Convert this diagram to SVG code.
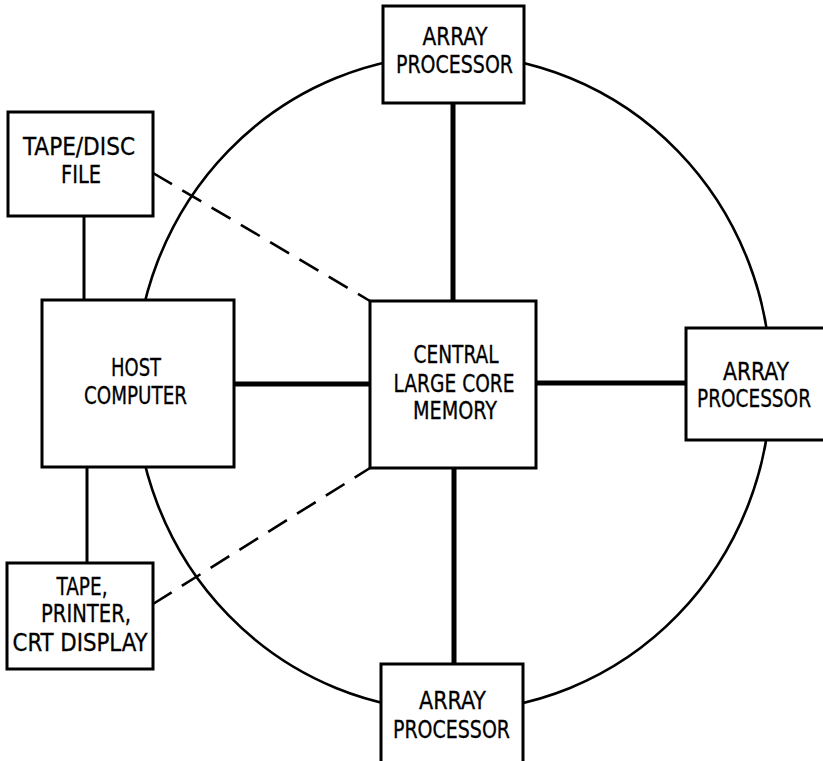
<svg xmlns="http://www.w3.org/2000/svg" width="823" height="761" viewBox="0 0 823 761">
<style>
.box{fill:#fff;stroke:#000;stroke-width:3}
.ring{fill:none;stroke:#000;stroke-width:2.6}
.thick{stroke:#000;stroke-width:5;fill:none}
.thin{stroke:#000;stroke-width:3;fill:none}
.dash{stroke:#000;stroke-width:2.6;fill:none;stroke-dasharray:22 12}
text{font-family:"DejaVu Sans Condensed","Liberation Sans",sans-serif;font-stretch:condensed;font-size:24px;fill:#000;text-anchor:middle;stroke:#000;stroke-width:0.3}
</style>
<rect width="823" height="761" fill="#fff"/>
<ellipse class="ring" cx="453" cy="383" rx="318" ry="328"/>
<g id="connectors">
<line class="thick" x1="453" y1="103" x2="453" y2="301"/>
<line class="thick" x1="454" y1="468" x2="454" y2="664"/>
<line class="thick" x1="234" y1="384" x2="370" y2="384"/>
<line class="thick" x1="536" y1="383" x2="686" y2="383"/>
<line class="thin" x1="84" y1="216" x2="84" y2="300"/>
<line class="thin" x1="87" y1="467" x2="87" y2="563"/>
<line class="dash" x1="153" y1="173" x2="370" y2="301"/>
<line class="dash" x1="153" y1="604" x2="370" y2="468"/>
</g>
<g id="ap-top">
<rect class="box" x="383" y="6" width="141" height="97"/>
<text x="455" y="45" textLength="65" lengthAdjust="spacingAndGlyphs">ARRAY</text>
<text x="454.5" y="73" textLength="117" lengthAdjust="spacingAndGlyphs">PROCESSOR</text>
</g>
<g id="tape-disc">
<rect class="box" x="8" y="112" width="145" height="104"/>
<text x="79" y="155" textLength="112" lengthAdjust="spacingAndGlyphs">TAPE/DISC</text>
<text x="81" y="183" textLength="40" lengthAdjust="spacingAndGlyphs">FILE</text>
</g>
<g id="host">
<rect class="box" x="42" y="300" width="192" height="167"/>
<text x="136" y="376" textLength="50" lengthAdjust="spacingAndGlyphs">HOST</text>
<text x="135.5" y="404" textLength="103" lengthAdjust="spacingAndGlyphs">COMPUTER</text>
</g>
<g id="central">
<rect class="box" x="370" y="301" width="166" height="167"/>
<text x="456" y="363" textLength="85" lengthAdjust="spacingAndGlyphs">CENTRAL</text>
<text x="454" y="392" textLength="121" lengthAdjust="spacingAndGlyphs">LARGE CORE</text>
<text x="455" y="419" textLength="84" lengthAdjust="spacingAndGlyphs">MEMORY</text>
</g>
<g id="ap-right">
<path class="box" d="M823 328 H686 V440 H823"/>
<text x="756" y="380" textLength="66" lengthAdjust="spacingAndGlyphs">ARRAY</text>
<text x="754" y="407" textLength="114" lengthAdjust="spacingAndGlyphs">PROCESSOR</text>
</g>
<g id="ap-bottom">
<path class="box" d="M381 761 V664 H523 V761"/>
<text x="452.5" y="709" textLength="67" lengthAdjust="spacingAndGlyphs">ARRAY</text>
<text x="451.5" y="738" textLength="117" lengthAdjust="spacingAndGlyphs">PROCESSOR</text>
</g>
<g id="tape-printer">
<rect class="box" x="7" y="563" width="146" height="106"/>
<text x="82" y="595" textLength="51" lengthAdjust="spacingAndGlyphs">TAPE,</text>
<text x="86" y="622" textLength="90" lengthAdjust="spacingAndGlyphs">PRINTER,</text>
<text x="80" y="651" textLength="135" lengthAdjust="spacingAndGlyphs">CRT DISPLAY</text>
</g>
</svg>
